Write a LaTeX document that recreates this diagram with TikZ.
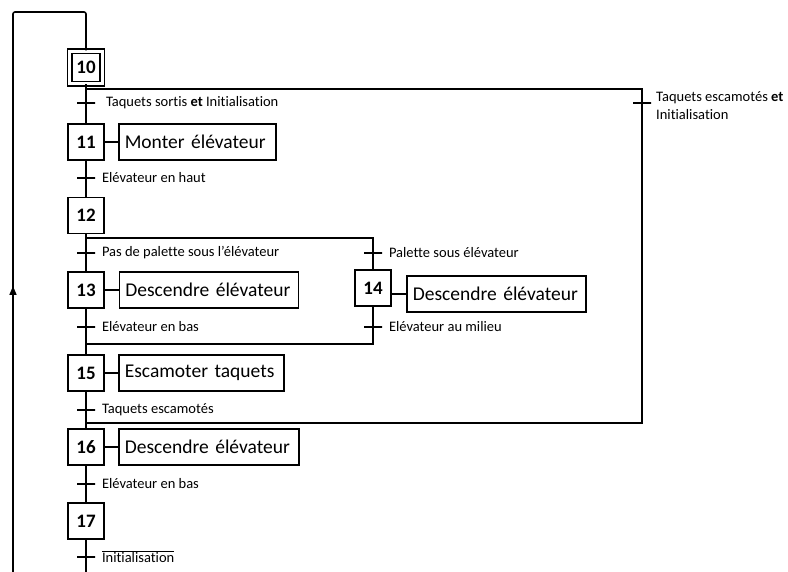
\documentclass[tikz,border=0pt]{standalone}
\usepackage{fontspec}
\setmainfont{Carlito}[Ligatures=NoCommon]
\usetikzlibrary{positioning,arrows.meta}
\tikzset{
  lien/.style={line width=1.6pt},
  etape/.style={draw,line width=1.6pt,minimum size=36pt,inner sep=0pt,fill=white,font=\fontsize{19}{19}\selectfont\bfseries},
  init/.style={etape,double,double distance=3pt,line width=1.5pt,minimum size=32.5pt},
  action/.style={draw,line width=1.6pt,minimum height=36pt,inner xsep=6pt,inner ysep=0pt,anchor=west,align=left,fill=white,font=\fontsize{19.5}{19.5}\selectfont},
  trans/.style={draw,line width=1.6pt,minimum width=18pt,minimum height=0pt,inner sep=0pt},
  recep/.style={anchor=west,inner sep=0pt,align=left,font=\fontsize{14.5}{18}\selectfont}
}
\begin{document}
\begin{tikzpicture}[x=1pt,y=-1pt]
\useasboundingbox (0,0) rectangle (788,572);
% etapes
\node[init] (s10) at (86,67.5) {10};
\node[etape] (s11) at (86,142) {11};
\node[etape] (s12) at (86,215.5) {12};
\node[etape] (s13) at (86,290) {13};
\node[etape] (s14) at (373,288) {14};
\node[etape] (s15) at (86,373) {15};
\node[etape] (s16) at (86,447) {16};
\node[etape] (s17) at (86,521) {17};
% actions
\node[action,text width=145pt] (a11) at (118,142) {Monter élévateur};
\node[action,text width=167pt] (a13) at (118.5,290) {Descendre élévateur};
\node[action,text width=167pt] (a14) at (406,294) {Descendre élévateur};
\node[action,text width=153pt] (a15) at (118,373) {Escamoter taquets};
\node[action,text width=168pt] (a16) at (118,447) {Descendre élévateur};
\foreach \n in {11,13,15,16} \draw[lien] (s\n.east) -- (a\n.west);
\draw[lien] (a14.west) -- (a14.west -| s14.east);
% points de divergence / convergence
\coordinate (div1) at (86,89);
\coordinate (div2) at (86,238);
\coordinate (conv2) at (86,344);
\coordinate (conv1) at (86,423);
\coordinate (bas) at (86,572);
\coordinate (retour) at (13,572);
% transitions
\node[trans] (t1) at (86,103) {};
\node[trans] (t2) at (86,178) {};
\node[trans] (t3) at (86,253) {};
\node[trans] (t4) at (373,253) {};
\node[trans] (t5) at (86,327) {};
\node[trans] (t6) at (373,327) {};
\node[trans] (t7) at (86,410) {};
\node[trans] (t8) at (642,103) {};
\node[trans] (t9) at (86,484) {};
\node[trans] (t10) at (86,557) {};
% liaisons
\draw[lien] (s10.south) -- (s11.north);
\draw[lien] (s11.south) -- (s12.north);
\draw[lien] (s12.south) -- (s13.north);
\draw[lien] (s13.south) -- (s15.north);
\draw[lien] (s15.south) -- (s16.north);
\draw[lien] (s16.south) -- (s17.north);
\draw[lien] (s17.south) -- (bas);
\draw[lien] (div1) -| (t8) |- (conv1);
\draw[lien] (div2) -| (s14.north);
\draw[lien] (s14.south) |- (conv2);
\draw[lien,-{Triangle[length=9pt,width=7pt]}] (retour) -- (13,286);
\draw[lien,rounded corners=2pt] (13,290) -- (13,12) -- (86,12) -- (s10.north);
% receptivites
\node[recep,right=10pt of t1] (r1) {Taquets sortis \textbf{et} Initialisation};
\node[recep,right=6pt of t2] (r2) {Elévateur en haut};
\node[recep,right=6pt of t3] (r3) {Pas de palette sous l'élévateur};
\node[recep,right=6pt of t4] (r4) {Palette sous élévateur};
\node[recep,right=6pt of t5] (r5) {Elévateur en bas};
\node[recep,right=6pt of t6] (r6) {Elévateur au milieu};
\node[recep,right=6pt of t7] (r7) {Taquets escamotés};
\node[recep,anchor=north west] (r8) at (656,91) {Taquets escamotés \textbf{et}\\Initialisation};
\node[recep,right=6pt of t9] (r9) {Elévateur en bas};
\node[recep,right=6pt of t10] (r10) {$\overline{\hbox{Initialisation}}$};
\end{tikzpicture}
\end{document}
